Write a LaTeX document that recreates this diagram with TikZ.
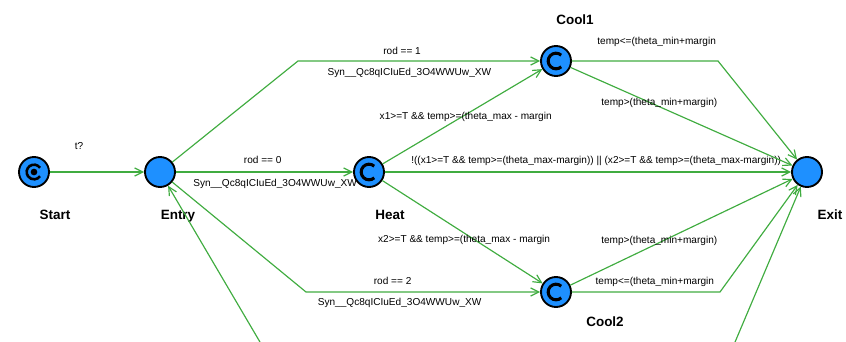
\documentclass[tikz,border=0pt]{standalone}
\usepackage{fontspec}
\setmainfont{Liberation Sans}
\usetikzlibrary{positioning,arrows.meta}
\definecolor{locblue}{RGB}{30,144,255}
\definecolor{transgreen}{RGB}{64,172,64}

\begin{document}
\begin{tikzpicture}[
    on grid,
    loc/.style={circle, draw=black, line width=1.6pt, fill=locblue, minimum size=0.9cm, inner sep=0pt},
    committed/.style={loc, path picture={
        \draw[line width=2.6pt] ([shift={(48:0.235)}]path picture bounding box.center) arc (48:312:0.235);}},
    initcom/.style={loc, path picture={
        \draw[line width=2.2pt] ([shift={(35:0.22)}]path picture bounding box.center) arc (35:325:0.22);
        \fill[black] (path picture bounding box.center) circle (0.1);}},
    locname/.style={font=\bfseries\fontsize{11.5}{13}\selectfont},
    trans/.style={draw=transgreen, line width=1pt, -{Straight Barb[length=7pt,width=7pt]}},
    guard/.style={font=\fontsize{8.6}{10}\selectfont, inner sep=1pt}
  ]
  \useasboundingbox (-1.02,5.16) rectangle (24.36,-5.1);

  \node[initcom, label={[locname, xshift=.63cm, yshift=-.53cm]below:Start}] (start) at (0,0) {};
  \node[loc, label={[locname, xshift=.54cm, yshift=-.53cm]below:Entry}] (entry) [right=3.78cm of start] {};
  \node[committed, label={[locname, xshift=.63cm, yshift=-.53cm]below:Heat}] (heat) [right=6.27cm of entry] {};
  \node[committed, label={[locname, xshift=.57cm, yshift=.5cm]above:Cool1}] (cool1) [above right=3.33cm and 5.61cm of heat] {};
  \node[committed, label={[locname, xshift=1.47cm, yshift=-.15cm]below:Cool2}] (cool2) [below right=3.6cm and 5.61cm of heat] {};
  \node[loc, label={[locname, xshift=.69cm, yshift=-.53cm]below:Exit}] (exit) [right=13.14cm of heat] {};

  \coordinate[left=7.74cm of cool1] (b1);
  \coordinate[left=7.5cm of cool2] (b2);
  \coordinate[right=4.86cm of cool1] (b3);
  \coordinate[right=4.92cm of cool2] (b4);
  \coordinate[below right=5.34cm and 3.14cm of entry] (in1);
  \coordinate[below left=5.34cm and 2.26cm of exit] (in2);

  \draw[trans] (start) -- node[guard, above=.62cm, pos=.31] {t?} (entry);
  \draw[trans] (entry) -- (b1)
    -- node[guard, above=.15cm, pos=.43] {rod == 1}
       node[guard, below=.15cm, pos=.46] {Syn\_\_Qc8qICIuEd\_3O4WWUw\_XW} (cool1);
  \draw[trans] (entry) -- node[guard, above=.2cm, pos=.49] {rod == 0}
       node[guard, below=.15cm, pos=.56] {Syn\_\_Qc8qICIuEd\_3O4WWUw\_XW} (heat);
  \draw[trans] (entry) -- (b2)
    -- node[guard, above=.18cm, pos=.37] {rod == 2}
       node[guard, below=.12cm, pos=.40] {Syn\_\_Qc8qICIuEd\_3O4WWUw\_XW} (cool2);
  \draw[trans] (in1) -- (entry);

  \draw[trans] (heat) -- node[guard, pos=.52, yshift=-.08cm] {x1>=T \&\& temp>=(theta\_max - margin} (cool1);
  \draw[trans] (heat) -- node[guard, pos=.51, yshift=-.22cm] {x2>=T \&\& temp>=(theta\_max - margin} (cool2);
  \draw[trans] (heat) -- node[guard, above=.14cm, pos=.52]
    {!((x1>=T \&\& temp>=(theta\_max-margin)) || (x2>=T \&\& temp>=(theta\_max-margin))} (exit);

  \draw[trans] (cool1) -- node[guard, above=.37cm, pos=.58] {temp<=(theta\_min+margin} (b3) -- (exit);
  \draw[trans] (cool1) -- node[guard, pos=.40, yshift=.12cm] {temp>(theta\_min+margin)} (exit);
  \draw[trans] (cool2) -- node[guard, pos=.40, yshift=.06cm] {temp>(theta\_min+margin)} (exit);
  \draw[trans] (cool2) -- node[guard, above=.12cm, pos=.56] {temp<=(theta\_min+margin} (b4) -- (exit);
  \draw[trans] (in2) -- (exit);
\end{tikzpicture}
\end{document}
